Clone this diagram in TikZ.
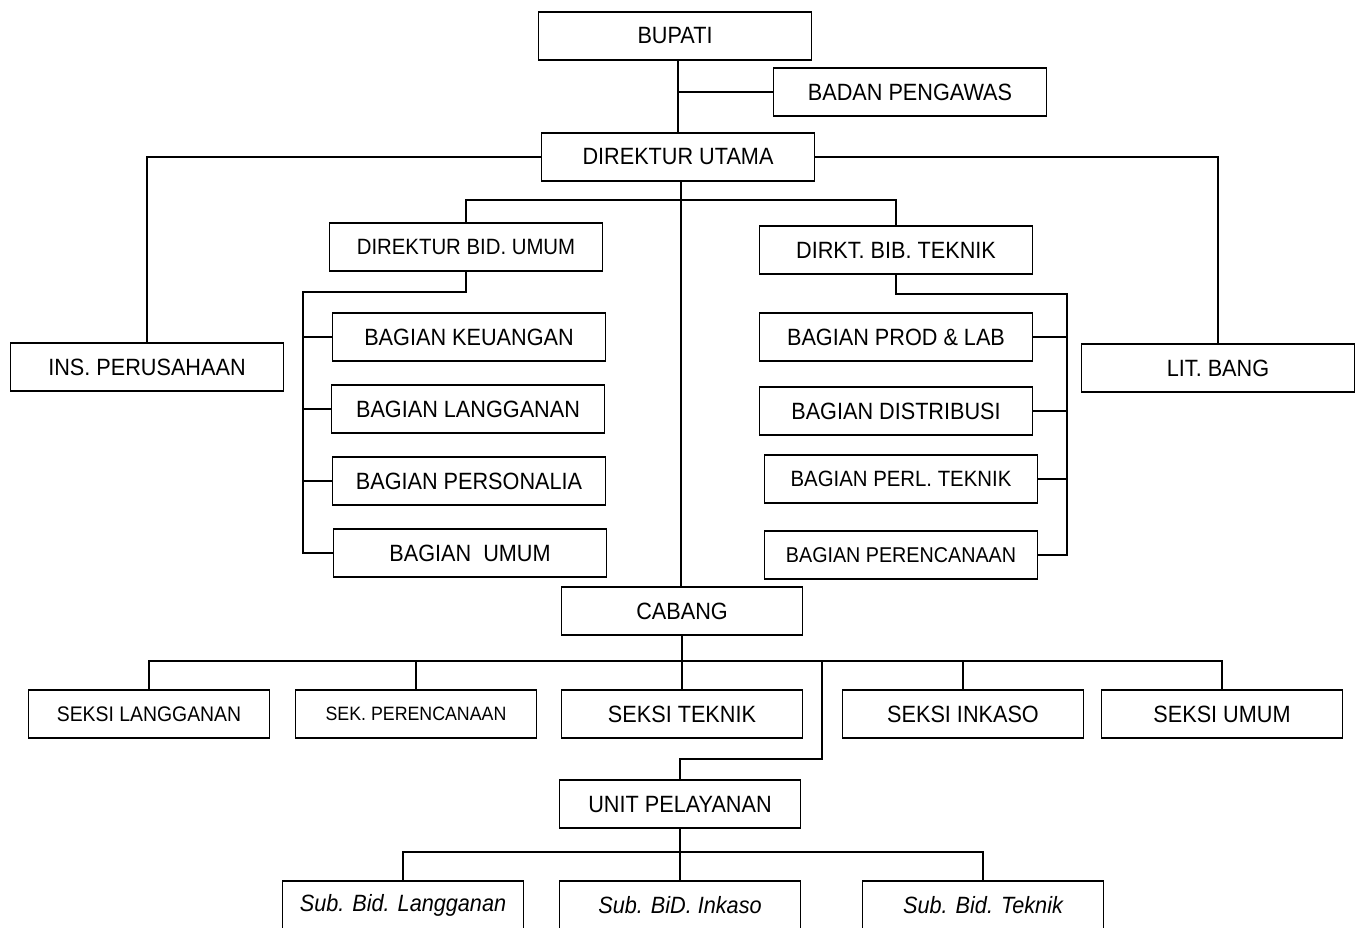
\documentclass[tikz,border=0pt]{standalone}
\usepackage{fontspec}
\setmainfont{Liberation Sans}[FakeStretch=0.92]
\begin{document}
\begin{tikzpicture}[
  x=0.02cm, y=-0.02cm,
  block/.style={rectangle, draw, line width=1pt, minimum width=5.46cm, minimum height=0.96cm, inner sep=0pt, font=\fontsize{13.4}{15}\selectfont},
  narrow/.style={block, minimum width=4.82cm},
  subbox/.style={narrow, font=\fontsize{13.4}{15}\selectfont\itshape},
  line width=0.9pt
]
\useasboundingbox (0,0) rectangle (1361,927);

\node[block] (bupati) at (675,36) {BUPATI};
\node[block] (badan_pengawas) at (910,92) {BADAN PENGAWAS};
\node[block] (dir_utama) at (678,157) {DIREKTUR UTAMA};
\node[block] (ins_perusahaan) at (147,367) {INS. PERUSAHAAN};
\node[block] (lit_bang) at (1218,368) {LIT. BANG};

\node[block, font=\fontsize{12.6}{15}\selectfont] (dir_umum) at (466,247) {DIREKTUR BID. UMUM};
\node[block] (dir_teknik) at (896,250) {DIRKT. BIB. TEKNIK};

\node[block] (bag_keuangan) at (469,337) {BAGIAN KEUANGAN};
\node[block] (bag_langganan) at (468,409) {BAGIAN LANGGANAN};
\node[block] (bag_personalia) at (469,481) {BAGIAN PERSONALIA};
\node[block] (bag_umum) at (470,553) {BAGIAN\ \ UMUM};

\node[block] (bag_prod) at (896,337) {BAGIAN PROD \& LAB};
\node[block] (bag_distribusi) at (896,411) {BAGIAN DISTRIBUSI};
\node[block, font=\fontsize{12.6}{15}\selectfont] (bag_perl) at (901,479) {BAGIAN PERL. TEKNIK};
\node[block, font=\fontsize{12.2}{15}\selectfont] (bag_perencanaan) at (901,555) {BAGIAN PERENCANAAN};

\node[narrow] (cabang) at (682,611) {CABANG};
\node[narrow, font=\fontsize{12}{15}\selectfont] (seksi_langganan) at (149,714) {SEKSI LANGGANAN};
\node[narrow, font=\fontsize{11}{15}\selectfont] (sek_perencanaan) at (416,714) {SEK. PERENCANAAN};
\node[narrow] (seksi_teknik) at (682,714) {SEKSI TEKNIK};
\node[narrow] (seksi_inkaso) at (963,714) {SEKSI INKASO};
\node[narrow] (seksi_umum) at (1222,714) {SEKSI UMUM};

\node[narrow] (unit_pelayanan) at (680,804) {UNIT PELAYANAN};
\node[subbox] (sub_langganan) at (403,905) {Sub. Bid. Langganan};
\node[subbox] (sub_inkaso) at (680,905) {Sub. BiD. Inkaso};
\node[subbox] (sub_teknik) at (983,905) {Sub. Bid. Teknik};

\coordinate (dir_bar) at (681,200);
\coordinate (umum_bar) at (303,292);
\coordinate (teknik_bar) at (1067,294);
\coordinate (seksi_bar) at (682,661);
\coordinate (unit_bend) at (822,661);
\coordinate (unit_knee) at (822,759);
\coordinate (sub_bar) at (680,852);

\draw (dir_utama.north) -- (dir_utama.north |- bupati.south);
\draw (badan_pengawas.west) -- (badan_pengawas.west -| dir_utama.north);
\draw (dir_utama.west) -| (ins_perusahaan.north);
\draw (dir_utama.east) -| (lit_bang.north);
\draw (cabang.north -| dir_bar) -- (dir_bar |- dir_utama.south);
\draw (dir_umum.north) |- (dir_bar) -| (dir_teknik.north);

\draw (dir_umum.south) |- (umum_bar) |- (bag_umum.west);
\foreach \b in {bag_keuangan,bag_langganan,bag_personalia}
  \draw (\b.west) -- (\b.west -| umum_bar);
\draw (dir_teknik.south) |- (teknik_bar) |- (bag_perencanaan.east);
\foreach \b in {bag_prod,bag_distribusi,bag_perl}
  \draw (\b.east) -- (\b.east -| teknik_bar);

\draw (cabang.south) -- (seksi_teknik.north);
\draw (seksi_langganan.north) |- (seksi_bar) -| (seksi_umum.north);
\draw (sek_perencanaan.north) -- (sek_perencanaan.north |- seksi_bar);
\draw (seksi_inkaso.north) -- (seksi_inkaso.north |- seksi_bar);
\draw (unit_bend) -- (unit_knee) -| (unit_pelayanan.north);

\draw (unit_pelayanan.south) -- (sub_inkaso.north);
\draw (sub_langganan.north) |- (sub_bar) -| (sub_teknik.north);
\end{tikzpicture}
\end{document}
